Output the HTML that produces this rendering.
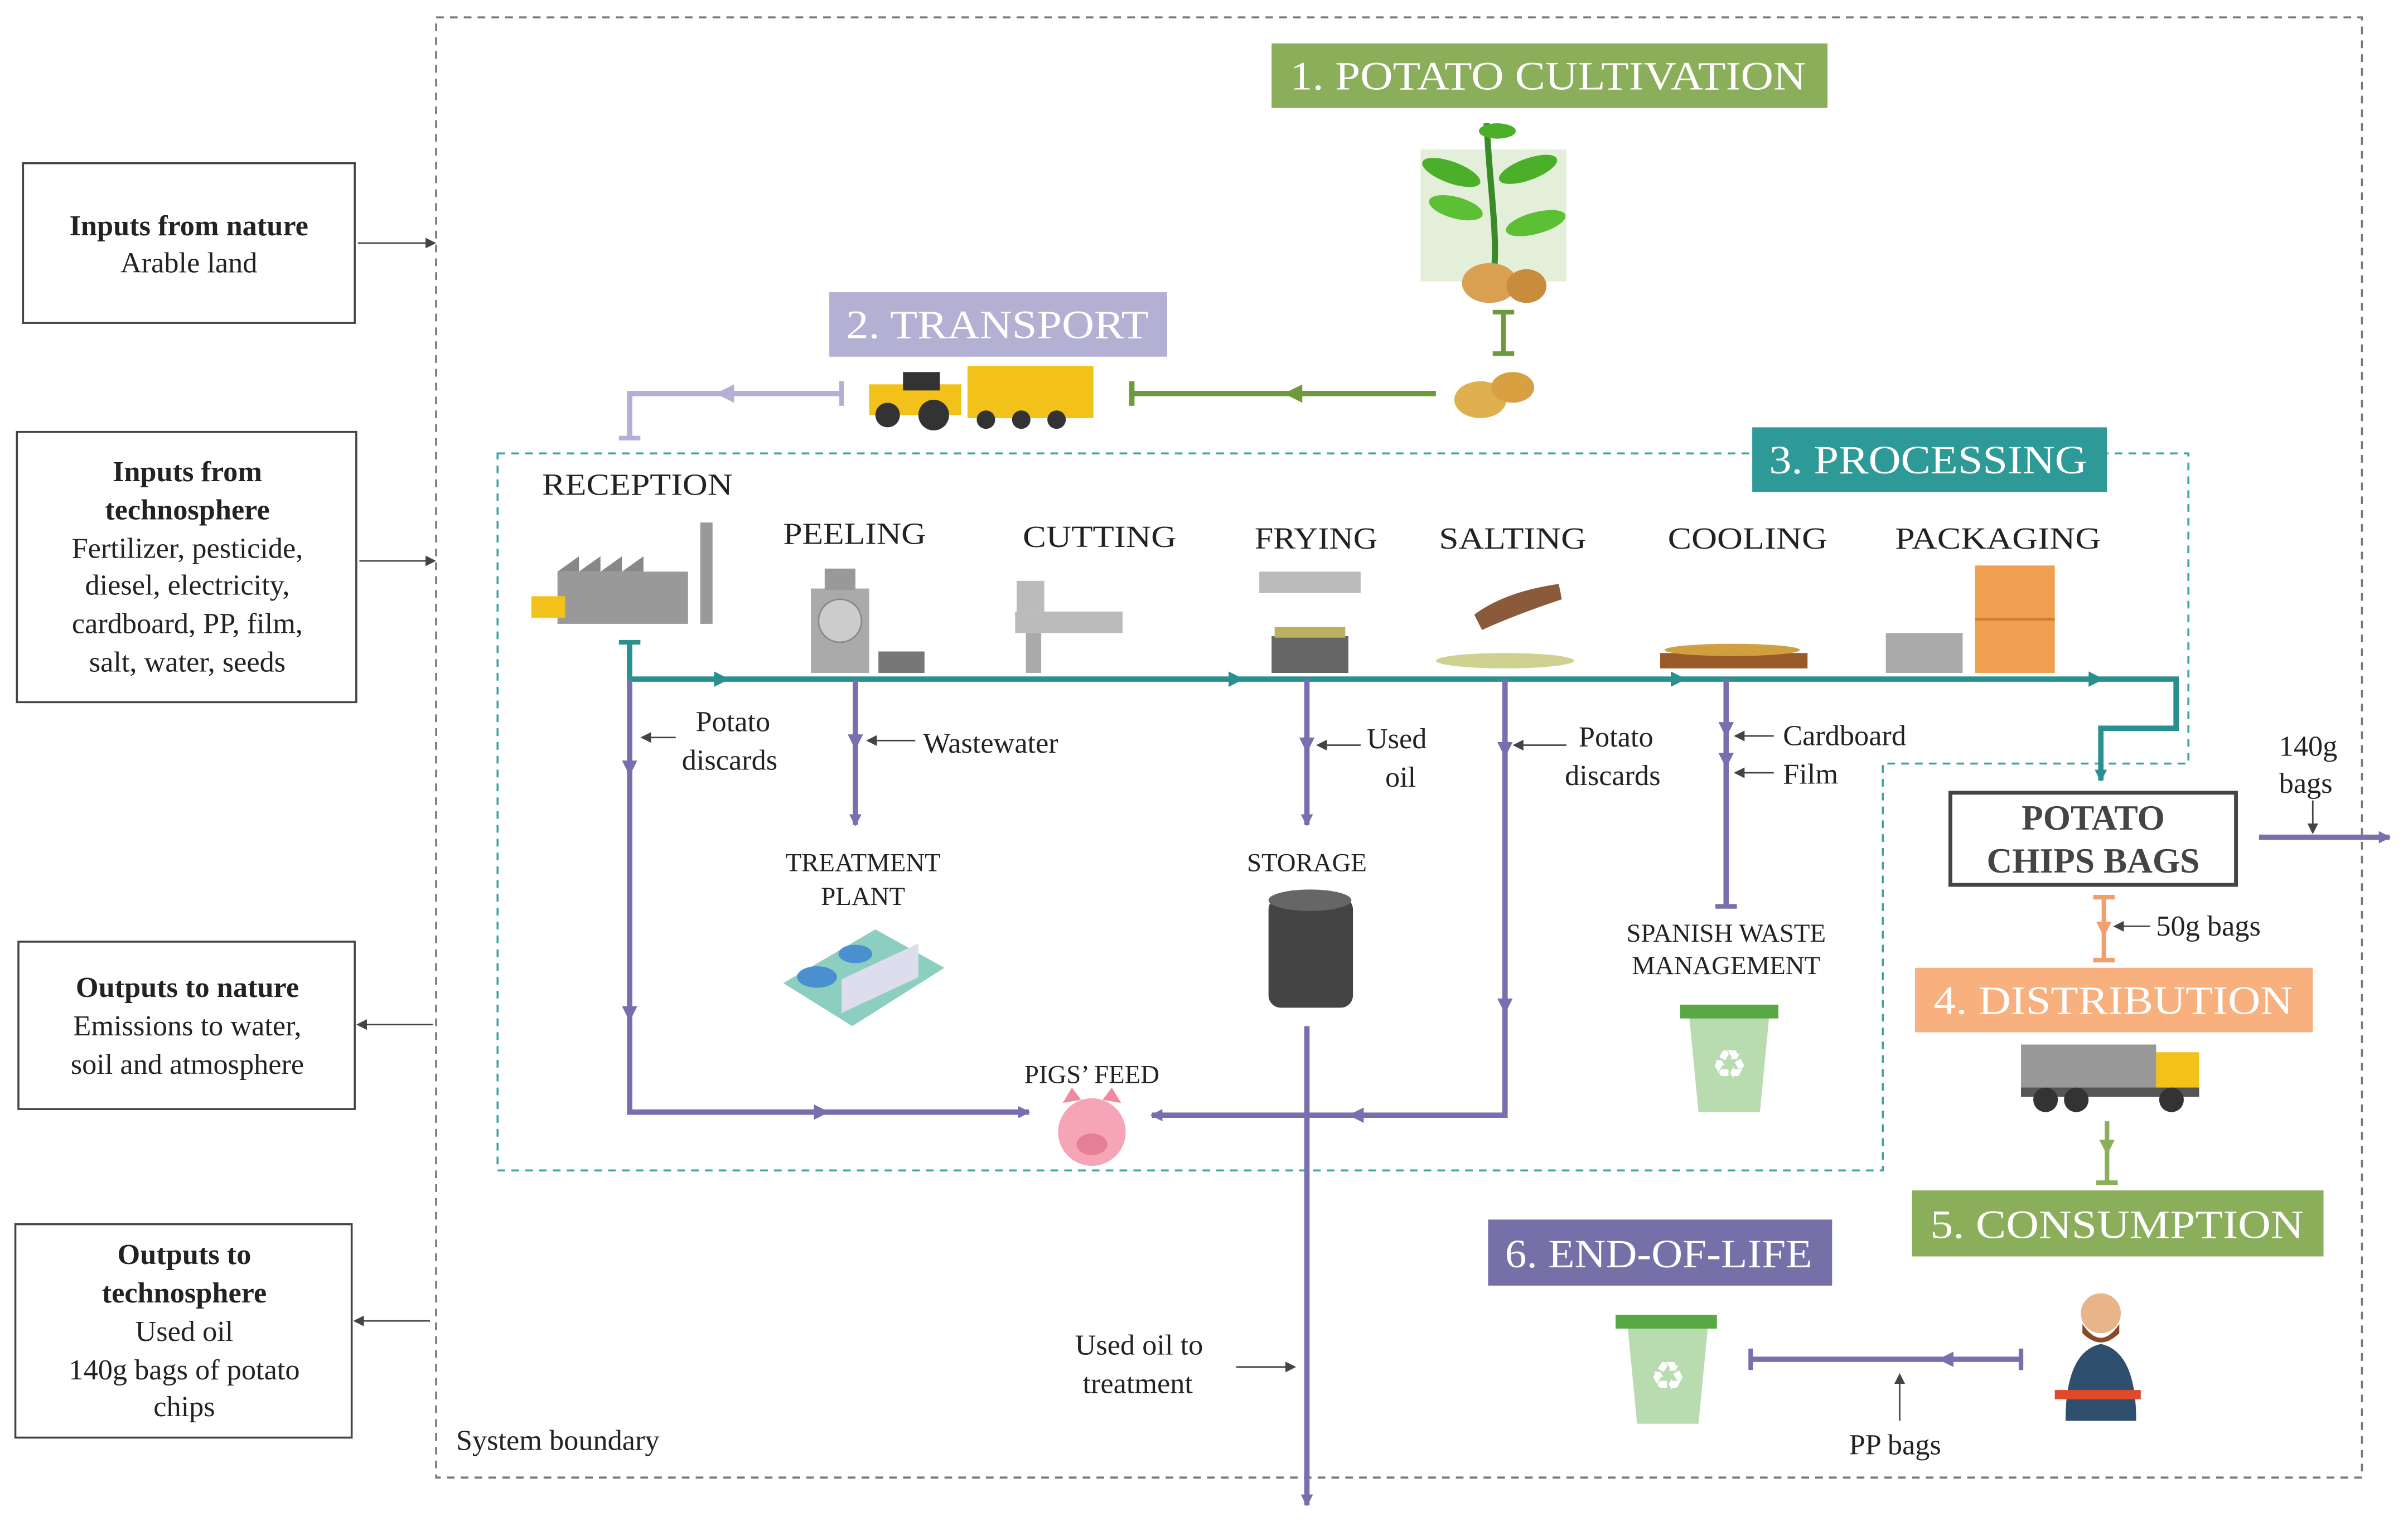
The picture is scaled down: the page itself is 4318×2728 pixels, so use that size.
<!DOCTYPE html>
<html><head><meta charset="utf-8"><style>
html,body{margin:0;padding:0;background:#fff}
svg{display:block}
text{font-family:"Liberation Serif",serif;fill:#222}
</style></head><body>
<svg width="4318" height="2728" viewBox="0 0 1568 990" xmlns="http://www.w3.org/2000/svg">
<defs>
<marker id="ap" markerWidth="8" markerHeight="8" refX="7" refY="4" orient="auto" markerUnits="userSpaceOnUse"><path d="M0,0 L8,4 L0,8 z" fill="#7a6fae"/></marker>
<marker id="at" markerWidth="8" markerHeight="8" refX="7" refY="4" orient="auto" markerUnits="userSpaceOnUse"><path d="M0,0 L8,4 L0,8 z" fill="#2a8f8f"/></marker>
<marker id="ak" markerWidth="7" markerHeight="7" refX="6" refY="3.5" orient="auto" markerUnits="userSpaceOnUse"><path d="M0,0 L7,3.5 L0,7 z" fill="#444"/></marker>
</defs>
<rect x="284" y="11" width="1254" height="951" fill="none" stroke="#777" stroke-width="1.3" stroke-dasharray="5,4"/>
<text x="297" y="944" font-size="19">System boundary</text>
<path d="M324,295 H1425 V497 H1226 V762 H324 Z" fill="none" stroke="#3aa3a3" stroke-width="1.3" stroke-dasharray="5,4"/>

<g stroke="#444" stroke-width="1.3" fill="#fff">
<rect x="15" y="106" width="216" height="104"/>
<rect x="11" y="281" width="221" height="176"/>
<rect x="12" y="613" width="219" height="109"/>
<rect x="10" y="797" width="219" height="139"/>
</g>
<g font-size="19" text-anchor="middle">
<text x="123" y="153" font-weight="bold">Inputs from nature</text>
<text x="123" y="177">Arable land</text>
<text x="122" y="313" font-weight="bold">Inputs from</text>
<text x="122" y="338" font-weight="bold">technosphere</text>
<text x="122" y="363">Fertilizer, pesticide,</text>
<text x="122" y="387">diesel, electricity,</text>
<text x="122" y="412">cardboard, PP, film,</text>
<text x="122" y="437">salt, water, seeds</text>
<text x="122" y="649" font-weight="bold">Outputs to nature</text>
<text x="122" y="674">Emissions to water,</text>
<text x="122" y="699">soil and atmosphere</text>
<text x="120" y="823" font-weight="bold">Outputs to</text>
<text x="120" y="848" font-weight="bold">technosphere</text>
<text x="120" y="873">Used oil</text>
<text x="120" y="898">140g bags of potato</text>
<text x="120" y="922">chips</text>
</g>
<g stroke="#444" stroke-width="1">
<line x1="233" y1="158" x2="283" y2="158" marker-end="url(#ak)"/>
<line x1="234" y1="365" x2="283" y2="365" marker-end="url(#ak)"/>
<line x1="282" y1="667" x2="233" y2="667" marker-end="url(#ak)"/>
<line x1="280" y1="860" x2="231" y2="860" marker-end="url(#ak)"/>
</g>

<g font-size="26" lengthAdjust="spacingAndGlyphs">
<rect x="828" y="28" width="362" height="42" fill="#8bae5b"/>
<text x="840" y="58" textLength="336" lengthAdjust="spacingAndGlyphs" style="fill:#fff">1. POTATO CULTIVATION</text>
<rect x="540" y="190" width="220" height="42" fill="#b4b0d4"/>
<text x="551" y="220" textLength="197" lengthAdjust="spacingAndGlyphs" style="fill:#fff">2. TRANSPORT</text>
<rect x="1141" y="278" width="231" height="42" fill="#2e9a98"/>
<text x="1152" y="308" textLength="207" lengthAdjust="spacingAndGlyphs" style="fill:#fff">3. PROCESSING</text>
<rect x="1247" y="630" width="259" height="42" fill="#f8b07f"/>
<text x="1259" y="660" textLength="234" lengthAdjust="spacingAndGlyphs" style="fill:#fff">4. DISTRIBUTION</text>
<rect x="1245" y="775" width="268" height="43" fill="#8bae5b"/>
<text x="1257" y="806" textLength="243" lengthAdjust="spacingAndGlyphs" style="fill:#fff">5. CONSUMPTION</text>
<rect x="969" y="794" width="224" height="43" fill="#7670a8"/>
<text x="980" y="825" textLength="200" lengthAdjust="spacingAndGlyphs" style="fill:#fff">6. END-OF-LIFE</text>
</g>

<rect x="925" y="97" width="95" height="86" fill="#e4efda"/>
<path d="M968,80 C970,120 975,150 973,175" stroke="#3a8a2a" stroke-width="4" fill="none"/>
<ellipse cx="945" cy="112" rx="20" ry="7" fill="#4caf2a" transform="rotate(20 945 112)"/>
<ellipse cx="995" cy="110" rx="20" ry="7" fill="#4caf2a" transform="rotate(-20 995 110)"/>
<ellipse cx="948" cy="135" rx="18" ry="7" fill="#5cbf34" transform="rotate(15 948 135)"/>
<ellipse cx="1000" cy="145" rx="20" ry="7" fill="#5cbf34" transform="rotate(-15 1000 145)"/>
<ellipse cx="975" cy="85" rx="12" ry="5" fill="#4caf2a"/>
<ellipse cx="970" cy="184" rx="18" ry="13" fill="#d8a050"/>
<ellipse cx="994" cy="186" rx="13" ry="11" fill="#c88c3c"/>
<ellipse cx="964" cy="260" rx="17" ry="12" fill="#e0b050"/>
<ellipse cx="985" cy="252" rx="14" ry="10" fill="#d8a040"/>
<g stroke="#6e9a3e" stroke-width="3"><line x1="979" y1="203" x2="979" y2="230"/><line x1="972" y1="203" x2="986" y2="203"/><line x1="972" y1="230" x2="986" y2="230"/></g>

<g stroke="#6e9a3e" stroke-width="3.5"><line x1="935" y1="256" x2="737" y2="256"/><line x1="737" y1="248" x2="737" y2="264"/></g>
<path d="M848,250 L836,256 L848,262z" fill="#6e9a3e"/>
<path d="M548,256 H410 V285" stroke="#b4b0d4" stroke-width="3.5" fill="none"/>
<line x1="548" y1="248" x2="548" y2="264" stroke="#b4b0d4" stroke-width="3"/>
<path d="M478,250 L466,256 L478,262z" fill="#b4b0d4"/>
<line x1="403" y1="285" x2="417" y2="285" stroke="#b4b0d4" stroke-width="3"/>
<rect x="630" y="238" width="82" height="34" fill="#f2c21b"/>
<rect x="566" y="250" width="60" height="20" fill="#f2c21b"/>
<rect x="588" y="242" width="24" height="12" fill="#333"/>
<circle cx="578" cy="270" r="8" fill="#333"/><circle cx="608" cy="270" r="10" fill="#333"/>
<circle cx="642" cy="273" r="6" fill="#333"/><circle cx="665" cy="273" r="6" fill="#333"/><circle cx="688" cy="273" r="6" fill="#333"/>

<g font-size="20">
<text x="353" y="322" textLength="124" lengthAdjust="spacingAndGlyphs">RECEPTION</text>
<text x="510" y="354" textLength="93" lengthAdjust="spacingAndGlyphs">PEELING</text>
<text x="666" y="356" textLength="100" lengthAdjust="spacingAndGlyphs">CUTTING</text>
<text x="817" y="357" textLength="80" lengthAdjust="spacingAndGlyphs">FRYING</text>
<text x="937" y="357" textLength="96" lengthAdjust="spacingAndGlyphs">SALTING</text>
<text x="1086" y="357" textLength="104" lengthAdjust="spacingAndGlyphs">COOLING</text>
<text x="1234" y="357" textLength="134" lengthAdjust="spacingAndGlyphs">PACKAGING</text>
</g>
<rect x="363" y="372" width="85" height="34" fill="#999"/>
<path d="M363,372 l14,-10 l0,10 l14,-10 l0,10 l14,-10 l0,10 l14,-10 l0,10z" fill="#888"/>
<rect x="456" y="340" width="8" height="66" fill="#999"/>
<rect x="346" y="388" width="22" height="14" fill="#f2c21b"/>
<rect x="528" y="383" width="38" height="55" fill="#aaa"/>
<circle cx="547" cy="404" r="14" fill="#ccc" stroke="#888"/>
<rect x="537" y="370" width="20" height="14" fill="#999"/>
<rect x="572" y="424" width="30" height="14" fill="#777"/>
<rect x="661" y="398" width="70" height="14" fill="#bbb"/><rect x="668" y="412" width="10" height="26" fill="#aaa"/><rect x="662" y="378" width="18" height="20" fill="#bbb"/>
<rect x="820" y="372" width="66" height="14" fill="#bbb"/>
<rect x="828" y="414" width="50" height="24" fill="#666"/><rect x="830" y="408" width="46" height="7" fill="#b9b060"/>
<ellipse cx="980" cy="430" rx="45" ry="5" fill="#d0d090"/>
<path d="M960,400 q20,-15 55,-20 l2,10 q-30,10 -52,20z" fill="#8a5a3a"/>
<rect x="1081" y="425" width="96" height="10" fill="#9a5a2a"/><ellipse cx="1128" cy="423" rx="44" ry="4" fill="#d0a040"/>
<rect x="1286" y="368" width="52" height="70" fill="#f0a050"/><line x1="1286" y1="403" x2="1338" y2="403" stroke="#d08030" stroke-width="2"/>
<rect x="1228" y="412" width="50" height="26" fill="#aaa"/>

<path d="M410,418 V442 H1417 V474 H1368 V508" stroke="#2a8f8f" stroke-width="3.5" fill="none" marker-end="url(#at)"/>
<line x1="403" y1="418" x2="417" y2="418" stroke="#2a8f8f" stroke-width="3"/>
<g fill="#2a8f8f"><path d="M465,437 l10,5 l-10,5z"/><path d="M800,437 l10,5 l-10,5z"/><path d="M1088,437 l10,5 l-10,5z"/><path d="M1360,437 l10,5 l-10,5z"/></g>

<g stroke="#7a6fae" stroke-width="3.5" fill="none">
<path d="M410,442 V724 H670" marker-end="url(#ap)"/>
<line x1="557" y1="442" x2="557" y2="537" marker-end="url(#ap)"/>
<line x1="851" y1="442" x2="851" y2="537" marker-end="url(#ap)"/>
<path d="M980,442 V726 H750" marker-end="url(#ap)"/>
<line x1="1124" y1="442" x2="1124" y2="590"/>
<line x1="851" y1="668" x2="851" y2="980" marker-end="url(#ap)"/>
<line x1="1140" y1="885" x2="1316" y2="885"/>
</g>
<g fill="#7a6fae"><path d="M405,495 l5,10 l5,-10z"/><path d="M405,655 l5,10 l5,-10z"/><path d="M530,719 l10,5 l-10,5z"/><path d="M552,478 l5,10 l5,-10z"/><path d="M846,480 l5,10 l5,-10z"/><path d="M975,483 l5,10 l5,-10z"/><path d="M975,650 l5,10 l5,-10z"/><path d="M888,721 l-10,5 l10,5z"/><path d="M1119,470 l5,10 l5,-10z"/><path d="M1119,490 l5,10 l5,-10z"/><path d="M1272,880 l-10,5 l10,5z"/></g>
<g stroke="#7a6fae" stroke-width="3"><line x1="1117" y1="590" x2="1131" y2="590"/><line x1="1140" y1="878" x2="1140" y2="892"/><line x1="1316" y1="878" x2="1316" y2="892"/></g>

<g font-size="19">
<text x="453" y="476">Potato</text><text x="444" y="501">discards</text>
<text x="601" y="490">Wastewater</text>
<text x="890" y="487">Used</text><text x="902" y="512">oil</text>
<text x="1028" y="486">Potato</text><text x="1019" y="511">discards</text>
<text x="1161" y="485">Cardboard</text><text x="1161" y="510">Film</text>
<text x="700" y="882">Used oil to</text><text x="705" y="907">treatment</text>
<text x="1484" y="492">140g</text><text x="1484" y="516">bags</text>
<text x="1404" y="609">50g bags</text>
<text x="1204" y="947">PP bags</text>
</g>
<g stroke="#444" stroke-width="1">
<line x1="440" y1="480" x2="418" y2="480" marker-end="url(#ak)"/>
<line x1="596" y1="482" x2="565" y2="482" marker-end="url(#ak)"/>
<line x1="886" y1="485" x2="858" y2="485" marker-end="url(#ak)"/>
<line x1="1020" y1="485" x2="986" y2="485" marker-end="url(#ak)"/>
<line x1="1155" y1="479" x2="1130" y2="479" marker-end="url(#ak)"/>
<line x1="1155" y1="503" x2="1130" y2="503" marker-end="url(#ak)"/>
<line x1="805" y1="890" x2="843" y2="890" marker-end="url(#ak)"/>
<line x1="1506" y1="521" x2="1506" y2="542" marker-end="url(#ak)"/>
<line x1="1400" y1="603" x2="1377" y2="603" marker-end="url(#ak)"/>
<line x1="1237" y1="925" x2="1237" y2="895" marker-end="url(#ak)"/>
</g>

<g font-size="17" text-anchor="middle">
<text x="562" y="567">TREATMENT</text><text x="562" y="589">PLANT</text>
<text x="851" y="567">STORAGE</text>
<text x="1124" y="613">SPANISH WASTE</text><text x="1124" y="634">MANAGEMENT</text>
<text x="711" y="705">PIGS’ FEED</text>
</g>
<path d="M510,640 L570,605 L615,630 L555,668z" fill="#8ccfc0"/>
<rect x="548" y="628" width="50" height="22" fill="#dde" transform="skewY(-25) translate(0,265)"/>
<ellipse cx="532" cy="636" rx="13" ry="7" fill="#4a90d0"/><ellipse cx="557" cy="621" rx="11" ry="6" fill="#4a90d0"/>
<rect x="826" y="584" width="55" height="72" rx="8" fill="#444"/><ellipse cx="853" cy="586" rx="27" ry="7" fill="#666"/>
<circle cx="711" cy="737" r="22" fill="#f5a5b5"/><ellipse cx="711" cy="745" rx="10" ry="7" fill="#e47f95"/>
<path d="M692,718 l6,-10 l6,8z M718,716 l6,-8 l6,10z" fill="#f08aa0"/>
<g fill="#b8dcb0"><path d="M1100,662 h52 l-6,62 h-40z"/><rect x="1094" y="654" width="64" height="9" fill="#5aa845"/>
<path d="M1060,865 h52 l-6,62 h-40z"/><rect x="1052" y="856" width="66" height="9" fill="#5aa845"/></g>
<text x="1126" y="702" font-size="26" text-anchor="middle" style="fill:#fff">♻</text>
<text x="1086" y="905" font-size="26" text-anchor="middle" style="fill:#fff">♻</text>

<rect x="1270" y="516" width="186" height="60" fill="#fff" stroke="#444" stroke-width="2.5"/>
<text x="1363" y="540" font-size="23" text-anchor="middle" font-weight="bold" style="fill:#444">POTATO</text>
<text x="1363" y="568" font-size="23" text-anchor="middle" font-weight="bold" style="fill:#444">CHIPS BAGS</text>
<line x1="1471" y1="545" x2="1556" y2="545" stroke="#7a6fae" stroke-width="3.5" marker-end="url(#ap)"/>
<g stroke="#f0a070" stroke-width="3"><line x1="1370" y1="584" x2="1370" y2="625"/><line x1="1363" y1="584" x2="1377" y2="584"/><line x1="1363" y1="625" x2="1377" y2="625"/></g>
<path d="M1365,600 l5,10 l5,-10z" fill="#f0a070"/>
<g stroke="#8bae5b" stroke-width="3"><line x1="1372" y1="730" x2="1372" y2="770"/><line x1="1365" y1="770" x2="1379" y2="770"/></g>
<path d="M1367,742 l5,10 l5,-10z" fill="#8bae5b"/>
<rect x="1316" y="680" width="88" height="30" fill="#999"/><rect x="1404" y="685" width="28" height="25" fill="#f2c21b"/>
<rect x="1316" y="708" width="116" height="6" fill="#555"/>
<circle cx="1332" cy="716" r="8" fill="#333"/><circle cx="1352" cy="716" r="8" fill="#333"/><circle cx="1414" cy="716" r="8" fill="#333"/>
<circle cx="1368" cy="855" r="13" fill="#e8b48a"/><path d="M1356,862 q12,18 24,0 v6 q-12,12 -24,0z" fill="#8a4a2a"/>
<path d="M1345,925 q0,-45 23,-50 q23,5 23,50z" fill="#2f4f6f"/>
<rect x="1338" y="905" width="56" height="6" fill="#e04a2a"/>
</svg>
</body></html>
